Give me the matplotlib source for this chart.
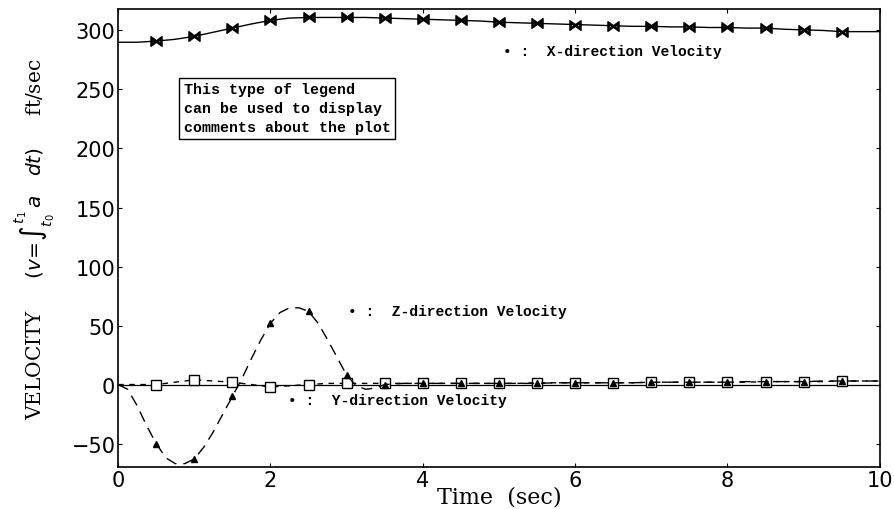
import matplotlib.pyplot as plt

# 时间轴 (0.25 s 步长)
t = [i * 0.25 for i in range(41)]

# X 方向速度
vx = [290, 290, 291, 292.5, 295, 298.5, 302, 305.5, 308.5, 310.5, 311, 311, 311, 311,
      310.5, 310, 309.5, 309, 308.5, 308, 307, 306.5, 306, 305.5, 305, 304.5, 304,
      303.5, 303.5, 303, 303, 302.5, 302.5, 302, 302, 301, 300.5, 300, 299, 299, 299]

# Y 方向速度
vy = [0, 0, 0, 2, 4, 3, 2, 0, -2, -1, 0, 1, 1, 1, 1, 1, 1, 1, 1, 1, 1, 1, 1.5,
      1.5, 1.5, 1.5, 1.5, 1.5, 2, 2, 2, 2, 2, 2, 2.5, 2.5, 2.5, 2.5, 3, 3, 3]

# Z 方向速度 (前 3.5 s 取 0.125 s 步长, 之后 0.25 s)
tz = [i * 0.125 for i in range(29)] + [3.5 + i * 0.25 for i in range(1, 27)]
vz = [0, -4, -18, -35, -50, -62, -67, -67, -63, -53, -40, -25, -10, 5, 22, 38,
      52, 61, 65, 65, 62, 52, 38, 23, 8, -1, -4, -3, 0,
      1, 1, 1, 1, 1, 1, 1, 1, 1.5, 1.5, 1.5, 1.5, 1.5, 2, 2, 2, 2, 2, 2.5,
      2.5, 2.5, 2.5, 3, 3, 3, 3]

comment = "This type of legend\ncan be used to display\ncomments about the plot"

fig = plt.figure(figsize=(8.95, 5.10), dpi=100)
ax = fig.add_axes((0.132, 0.082, 0.851, 0.898))

mk = slice(2, 40, 2)
mkz = [i for i, v in enumerate(tz) if 0 < v < 10 and (v * 2) % 1 == 0]
ax.axhline(0, color='black', lw=0.9)
ax.plot(t, vx, color='black', lw=1.0, marker=r'$\bowtie$', markersize=8,
        markevery=mk)
ax.plot(t, vy, color='black', lw=1.0, dashes=(4, 4), marker='s', markersize=7,
        markerfacecolor='white', markeredgewidth=1.0, markevery=mk)
ax.plot(tz, vz, color='black', lw=1.0, dashes=(8, 5), marker='^', markersize=5,
        markevery=mkz)

mono = {'family': 'Liberation Mono', 'weight': 'bold', 'size': 10.5}
ax.text(5.05, 283, '\u2022 :  X-direction Velocity', va='center', fontdict=mono)
ax.text(3.02, 62, '\u2022 :  Z-direction Velocity', va='center', fontdict=mono)
ax.text(2.23, -13, '\u2022 :  Y-direction Velocity', va='center', fontdict=mono)

ax.text(0.86, 256, comment, va='top', ha='left', linespacing=1.45,
        family='Liberation Mono', weight='bold', size=10.8,
        bbox=dict(boxstyle='square,pad=0.3', facecolor='white', edgecolor='black', lw=1.0))

ax.set_xlim(0, 10)
ax.set_ylim(-70, 318)
ax.set_xticks([0, 2, 4, 6, 8, 10])
ax.set_yticks([-50, 0, 50, 100, 150, 200, 250, 300])
ax.tick_params(direction='in', length=3, labelsize=15, top=True, right=True, pad=2)
for lab in ax.get_xticklabels() + ax.get_yticklabels():
    lab.set_family('DejaVu Sans')
for sp in ax.spines.values():
    sp.set_linewidth(1.2)

ax.set_xlabel('Time  (sec)', family='DejaVu Serif', size=16, labelpad=-3)
ax.set_ylabel(r'VELOCITY     $(v\!=\!\int_{t_0}^{t_1}\,a\quad dt)$     ft/sec',
              family='DejaVu Serif', size=14.5, labelpad=10)

fig.savefig('out.png')
